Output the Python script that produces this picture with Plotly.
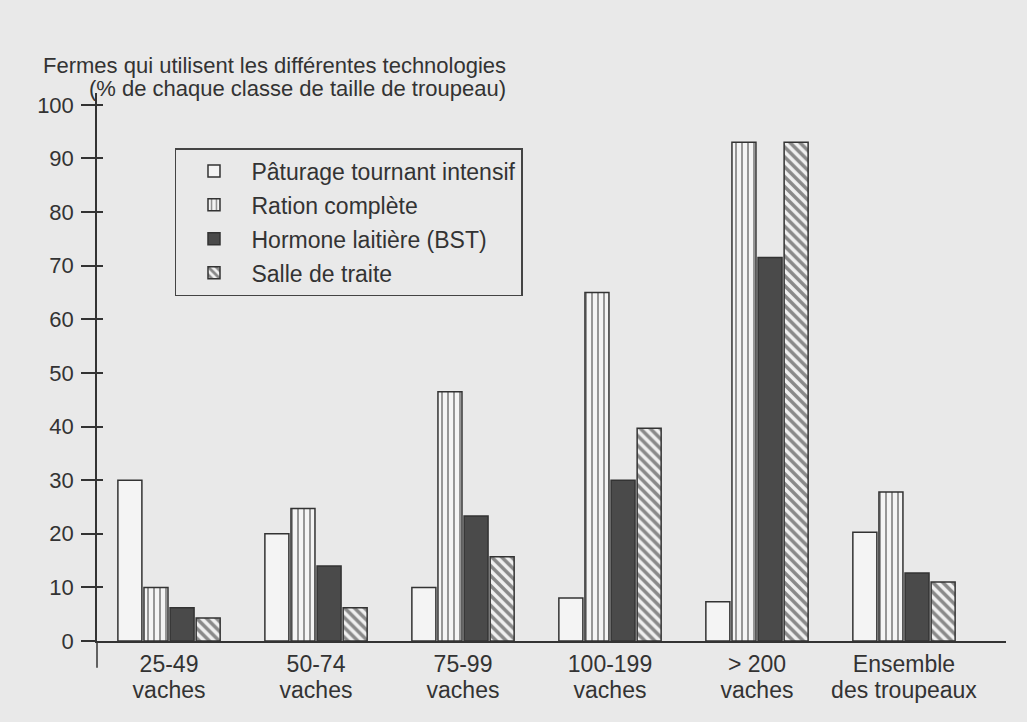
import plotly.graph_objects as go

cat_line1 = ["25-49", "50-74", "75-99", "100-199", "> 200", "Ensemble"]
cat_line2 = ["vaches", "vaches", "vaches", "vaches", "vaches", "des troupeaux"]
paturage = [30, 20, 10, 8, 7.3, 20.3]
ration = [10, 24.7, 46.5, 65, 93, 27.8]
hormone = [6.2, 14, 23.3, 30, 71.5, 12.7]
salle = [4.3, 6.2, 15.7, 39.7, 93, 11]
y_ticks = [0, 10, 20, 30, 40, 50, 60, 70, 80, 90, 100]

series_names = ["Pâturage tournant intensif", "Ration complète",
                "Hormone laitière (BST)", "Salle de traite"]

BG = "#e9e9e9"
INK = "#333333"
FONT = "Liberation Sans, Arial, sans-serif"

fig = go.Figure()
x_idx = list(range(len(cat_line1)))
styles = [
    dict(color="#f4f4f4"),
    dict(color="#f4f4f4", pattern=dict(shape="|", fgcolor="#222222", bgcolor="#f4f4f4", size=6, solidity=0.3)),
    dict(color="#4a4a4a"),
    dict(color="#f0f0f0", pattern=dict(shape="\\", fgcolor="#222222", bgcolor="#f0f0f0", size=7, solidity=0.5)),
]
for name, vals, st, g in zip(series_names, [paturage, ration, hormone, salle], styles, ["a", "b", "c", "d"]):
    fig.add_trace(go.Bar(x=x_idx, y=vals, name=name, legendgroup=g,
                         marker=dict(**st, line=dict(color=INK, width=1.5))))

# invisible helpers carrying the inner y ticks and the second line of category labels
fig.add_trace(go.Scatter(x=[None], y=[None], yaxis="y2", showlegend=False, hoverinfo="skip"))
fig.add_trace(go.Scatter(x=[None], y=[None], xaxis="x2", showlegend=False, hoverinfo="skip"))

fig.update_layout(
    width=1027, height=722,
    paper_bgcolor=BG, plot_bgcolor=BG,
    margin=dict(l=97, r=21, t=93, b=81),
    barmode="group", bargap=0.29, bargroupgap=0.08,
    font=dict(family=FONT, color=INK, size=22),
    showlegend=True,
    legend=dict(x=0.0858, y=0.8996, xanchor="left", yanchor="top",
                bgcolor=BG, bordercolor="#444444", borderwidth=1.5,
                font=dict(size=23, family=FONT, color=INK),
                itemwidth=65, tracegroupgap=1),
    xaxis=dict(range=[-0.49, 5.694], tickmode="array", tickvals=x_idx, ticktext=cat_line1,
               showline=True, linecolor=INK, linewidth=1.5, ticks="",
               showgrid=False, zeroline=False, ticklabelstandoff=2,
               tickfont=dict(size=23, family=FONT, color=INK)),
    xaxis2=dict(range=[-0.49, 5.694], overlaying="x", anchor="y", side="bottom",
                tickmode="array", tickvals=x_idx, ticktext=cat_line2,
                showline=False, ticks="", showgrid=False, zeroline=False,
                ticklabelstandoff=33,
                tickfont=dict(size=23, family=FONT, color=INK)),
    yaxis=dict(range=[0, 102.2], tickvals=y_ticks,
               showline=True, linecolor=INK, linewidth=1.5,
               ticks="outside", ticklen=14, tickwidth=1.5, tickcolor=INK,
               ticklabelstandoff=3,
               showgrid=False, zeroline=False,
               tickfont=dict(size=22, family=FONT, color=INK)),
    yaxis2=dict(range=[0, 102.2], overlaying="y", side="left", anchor="x",
                tickvals=y_ticks, showticklabels=False,
                ticks="inside", ticklen=6, tickwidth=1.5, tickcolor=INK,
                showgrid=False, zeroline=False, showline=False),
)

# extension of the y axis line below zero
fig.add_shape(type="line", xref="paper", yref="paper", x0=0, x1=0, y0=0, y1=-0.049,
              line=dict(color=INK, width=1.5))

fig.add_annotation(text="Fermes qui utilisent les différentes technologies",
                   xref="paper", yref="paper", x=0.452, y=1.050, xanchor="right", yanchor="middle",
                   showarrow=False, font=dict(size=22, family=FONT, color=INK))
fig.add_annotation(text="(% de chaque classe de taille de troupeau)",
                   xref="paper", yref="paper", x=0.452, y=1.009, xanchor="right", yanchor="middle",
                   showarrow=False, font=dict(size=22, family=FONT, color=INK))

fig.write_html("out.html", config={"displayModeBar": False},
               post_script="document.body.style.margin='0';")
